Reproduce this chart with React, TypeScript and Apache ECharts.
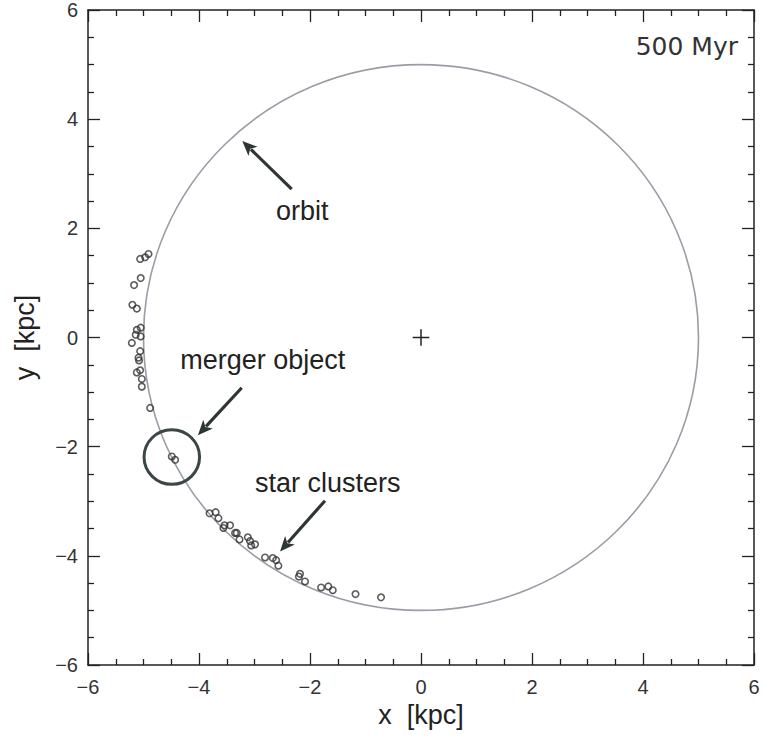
import React, { useEffect, useRef } from "react";
import * as echarts from "echarts";

// Star clusters stripped from the satellite (kpc)
const clusterX = [
  -4.91, -4.97, -5.06, -5.05, -5.17, -5.2, -5.12, -5.05, -5.12, -5.14, -5.05, -5.21,
  -5.06, -5.09, -5.08, -5.06, -5.12, -5.03, -5.03, -4.88,
  -3.81, -3.7, -3.65, -3.56, -3.54, -3.44, -3.35, -3.32, -3.27, -3.12, -3.08, -3.06,
  -2.99, -2.81, -2.67, -2.61, -2.57, -2.18, -2.2, -2.09, -1.8, -1.67, -1.59, -1.18, -0.72,
];
const clusterY = [
  1.53, 1.47, 1.44, 1.09, 0.96, 0.6, 0.53, 0.18, 0.14, 0.05, 0.02, -0.1,
  -0.25, -0.37, -0.42, -0.6, -0.64, -0.76, -0.9, -1.29,
  -3.22, -3.2, -3.31, -3.49, -3.44, -3.44, -3.58, -3.58, -3.7, -3.66, -3.73, -3.81,
  -3.79, -4.03, -4.04, -4.08, -4.18, -4.33, -4.38, -4.47, -4.58, -4.56, -4.63, -4.7, -4.76,
];

// Clusters still bound to the merger object
const mergerX = [-4.49, -4.43];
const mergerY = [-2.18, -2.24];

// Rings: [centre x, centre y, radius] in kpc
const orbitRing = [0, 0, 5];
const mergerRing = [-4.49, -2.19, 0.5];

// Galaxy centre marker
const centre = [0, 0, 0.15];

// Annotation arrows: [tail x, tail y, tip x, tip y]
const arrows = [
  [-2.33, 2.72, -3.22, 3.6],
  [-3.23, -0.92, -4.02, -1.79],
  [-1.73, -2.99, -2.54, -3.92],
];

// Annotation labels: [x, y]
const labelText = ["orbit", "merger object", "star clusters"];
const labelX = [-2.14, -2.85, -1.68];
const labelY = [2.31, -0.42, -2.67];

const axisTicks = { min: -6, max: 6, interval: 2 };
const timeLabel = "500 Myr";

const minusFmt = (v: number) => (v < 0 ? "\u2212" + Math.abs(v) : String(v));

export default function App() {
  const ref = useRef<HTMLDivElement>(null);

  useEffect(() => {
    document.body.style.margin = "0";
    const chart = echarts.init(ref.current!, null, { renderer: "svg" });

    const axisBase = {
      type: "value" as const,
      min: axisTicks.min,
      max: axisTicks.max,
      interval: axisTicks.interval,
      splitLine: { show: false },
      axisLine: { show: true, onZero: false, lineStyle: { color: "#222", width: 1.5 } },
      axisTick: { show: true, inside: true, length: 12, lineStyle: { color: "#222", width: 1.3 } },
      minorTick: { show: true, splitNumber: 4, length: 6, lineStyle: { color: "#222", width: 1.3 } },
    };
    const labelStyle = {
      formatter: minusFmt,
      color: "#333",
      fontSize: 20,
      fontFamily: "Liberation Sans",
    };

    const ringSeries = (row: number[], color: string, width: number) => ({
      type: "custom" as const,
      xAxisIndex: 0,
      yAxisIndex: 0,
      clip: false,
      silent: true,
      encode: { x: 0, y: 1 },
      data: [row],
      renderItem: (_p: any, api: any) => {
        const c = api.coord([api.value(0), api.value(1)]);
        const s = api.size([api.value(2), api.value(2)]);
        return {
          type: "ellipse",
          shape: { cx: c[0], cy: c[1], rx: s[0], ry: s[1] },
          style: { fill: "none", stroke: color, lineWidth: width },
        };
      },
    });

    const pointStyle = { color: "rgba(0,0,0,0)", borderColor: "#333", borderWidth: 1.6 };

    chart.setOption({
      animation: false,
      backgroundColor: "#fff",
      grid: { left: 88, right: 9, top: 9, bottom: 73, containLabel: false },
      xAxis: [
        {
          ...axisBase,
          position: "bottom",
          axisLabel: { ...labelStyle, margin: 12 },
          name: "x  [kpc]",
          nameLocation: "middle",
          nameGap: 36,
          nameTextStyle: { fontSize: 27, color: "#222", fontFamily: "Liberation Sans" },
        },
        { ...axisBase, position: "top", axisLabel: { show: false } },
      ],
      yAxis: [
        {
          ...axisBase,
          position: "left",
          axisLabel: { ...labelStyle, margin: 10 },
          name: "y  [kpc]",
          nameLocation: "middle",
          nameGap: 50,
          nameTextStyle: { fontSize: 27, color: "#222", fontFamily: "Liberation Sans" },
        },
        { ...axisBase, position: "right", axisLabel: { show: false } },
      ],
      graphic: [
        {
          type: "text",
          right: 25,
          top: 34,
          style: { text: timeLabel, font: "25px 'DejaVu Sans'", fill: "#333" },
        },
      ],
      series: [
        ringSeries(orbitRing, "#9a9ca6", 1.6),
        ringSeries(mergerRing, "#3b4646", 3),
        {
          type: "custom",
          xAxisIndex: 0,
          yAxisIndex: 0,
          silent: true,
          encode: { x: 0, y: 1 },
          data: [centre],
          renderItem: (_p: any, api: any) => {
            const c = api.coord([api.value(0), api.value(1)]);
            const s = api.size([api.value(2), api.value(2)]);
            const st = { stroke: "#222", lineWidth: 1.5 };
            return {
              type: "group",
              children: [
                { type: "line", shape: { x1: c[0] - s[0], y1: c[1], x2: c[0] + s[0], y2: c[1] }, style: st },
                { type: "line", shape: { x1: c[0], y1: c[1] - s[1], x2: c[0], y2: c[1] + s[1] }, style: st },
              ],
            };
          },
        },
        {
          type: "scatter",
          xAxisIndex: 0,
          yAxisIndex: 0,
          symbol: "circle",
          symbolSize: 6.5,
          silent: true,
          itemStyle: pointStyle,
          data: clusterX.map((x, i) => [x, clusterY[i]]),
        },
        {
          type: "scatter",
          xAxisIndex: 0,
          yAxisIndex: 0,
          symbol: "circle",
          symbolSize: 6.5,
          silent: true,
          itemStyle: pointStyle,
          data: mergerX.map((x, i) => [x, mergerY[i]]),
        },
        {
          type: "custom",
          xAxisIndex: 0,
          yAxisIndex: 0,
          silent: true,
          encode: { x: [0, 2], y: [1, 3] },
          data: arrows,
          renderItem: (_p: any, api: any) => {
            const a = api.coord([api.value(0), api.value(1)]);
            const b = api.coord([api.value(2), api.value(3)]);
            const dx = b[0] - a[0];
            const dy = b[1] - a[1];
            const len = Math.hypot(dx, dy);
            const ux = dx / len;
            const uy = dy / len;
            const headLen = 15;
            const headW = 6.5;
            const bx = b[0] - ux * headLen;
            const by = b[1] - uy * headLen;
            const nx = -uy;
            const ny = ux;
            return {
              type: "group",
              children: [
                {
                  type: "line",
                  shape: { x1: a[0], y1: a[1], x2: bx + ux * 3, y2: by + uy * 3 },
                  style: { stroke: "#2e3535", lineWidth: 3.2 },
                },
                {
                  type: "polygon",
                  shape: {
                    points: [
                      [b[0], b[1]],
                      [bx + nx * headW, by + ny * headW],
                      [bx + ux * 4, by + uy * 4],
                      [bx - nx * headW, by - ny * headW],
                    ],
                  },
                  style: { fill: "#2e3535" },
                },
              ],
            };
          },
        },
        {
          type: "custom",
          xAxisIndex: 0,
          yAxisIndex: 0,
          silent: true,
          encode: { x: 0, y: 1 },
          data: labelX.map((x, i) => [x, labelY[i], i]),
          renderItem: (_p: any, api: any) => {
            const c = api.coord([api.value(0), api.value(1)]);
            return {
              type: "text",
              x: c[0],
              y: c[1],
              style: {
                text: labelText[api.value(2)],
                textAlign: "center",
                textVerticalAlign: "middle",
                font: "27px 'Liberation Sans'",
                fill: "#222",
              },
            };
          },
        },
      ],
    });

    return () => chart.dispose();
  }, []);

  return <div ref={ref} style={{ width: 763, height: 738 }} />;
}
